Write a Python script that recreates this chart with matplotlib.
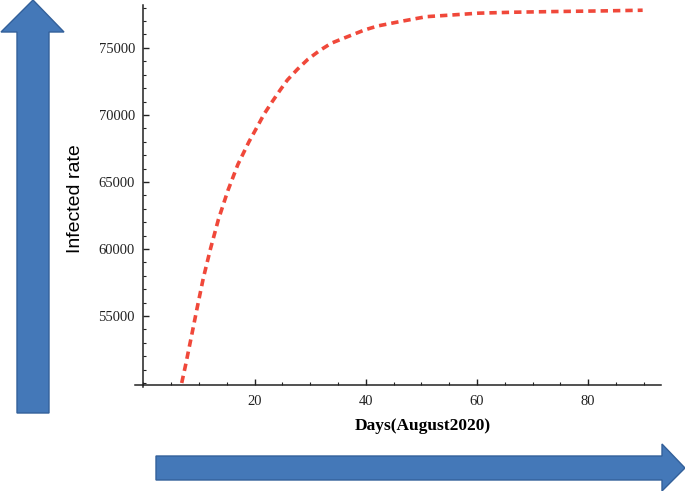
import matplotlib
matplotlib.use("Agg")
import matplotlib.pyplot as plt
from matplotlib.patches import Polygon
from matplotlib.ticker import MultipleLocator

# values
days = [6.9, 7.6, 8.7, 9.7, 10.8, 12.1, 13.5, 15.2, 17.0, 19.0, 20.4, 21.7,
        23.2, 24.6, 25.9, 27.7, 29.6, 31.7, 33.8, 35.6, 39.8, 42.2, 46.1,
        50.9, 55.7, 60.2, 66.5, 73.7, 82.7, 89.8]
infected = [50000, 51340, 53580, 55650, 57850, 60050, 62200, 64350, 66300,
            68000, 69050, 70050, 71000, 71850, 72600, 73400, 74150, 74800,
            75350, 75650, 76340, 76640, 76960, 77330, 77460, 77590, 77660,
            77710, 77760, 77810]

x_ticks = [20, 40, 60, 80]
y_ticks = [55000, 60000, 65000, 70000, 75000]

W, H = 685, 491
plt.rcParams['lines.scale_dashes'] = False
fig = plt.figure(figsize=(W / 100, H / 100), dpi=100)

# main plot, placed in pixel terms
left, right, top, bottom = 135, 661, 5, 387
ax = fig.add_axes([left / W, 1 - bottom / H, (right - left) / W, (bottom - top) / H])
ax.plot(days, infected, color='#f0483a', linewidth=2.6, solid_capstyle='butt',
        dash_capstyle='butt', dashes=(5.3, 3.6))
ax.set_xlim(-1.5, 93.1)
ax.set_ylim(49700, 78200)

for s in ['top', 'right']:
    ax.spines[s].set_visible(False)
ax.spines['left'].set_position(('data', 0))
ax.spines['bottom'].set_position(('data', 49850))
for s in ['left', 'bottom']:
    ax.spines[s].set_linewidth(1.1)
    ax.spines[s].set_color('#222222')

ax.set_xticks(x_ticks)
ax.set_yticks(y_ticks)
ax.set_yticklabels([str(v) for v in y_ticks])
ax.xaxis.set_minor_locator(MultipleLocator(5))
ax.yaxis.set_minor_locator(MultipleLocator(1000))
ax.tick_params(which='major', direction='in', length=4, width=1, color='#222222')
ax.tick_params(which='minor', direction='in', length=2.5, width=0.8, color='#222222')
ax.tick_params(axis='x', pad=7)
ax.tick_params(axis='y', pad=6)
for lab in ax.get_xticklabels() + ax.get_yticklabels():
    lab.set_fontfamily('Liberation Serif')
    lab.set_fontsize(10.5)
    lab.set_color('#222222')

fig.text(423 / W, 1 - 426 / H, 'Days(August2020)', ha='center', va='center',
         fontsize=12.5, fontweight='bold', family='Liberation Serif')
fig.text(76 / W, 1 - 199 / H, 'Infected rate', ha='center', va='center',
         rotation=90, fontsize=14, family='Liberation Sans')

# overlay for the two big blue arrows, pixel coordinates
ov = fig.add_axes([0, 0, 1, 1], zorder=-1)
ov.set_xlim(0, W)
ov.set_ylim(H, 0)
ov.axis('off')
face, edge = '#4478b8', '#33609a'
up_arrow = [(17, 413), (49, 413), (49, 32), (64, 32), (33, 0), (1, 32), (17, 32)]
right_arrow = [(156, 456), (662, 456), (662, 444), (685, 468), (662, 491),
               (662, 480), (156, 480)]
for pts in (up_arrow, right_arrow):
    ov.add_patch(Polygon(pts, closed=True, facecolor=face, edgecolor=edge, linewidth=1))

fig.savefig('out.png', dpi=100)
